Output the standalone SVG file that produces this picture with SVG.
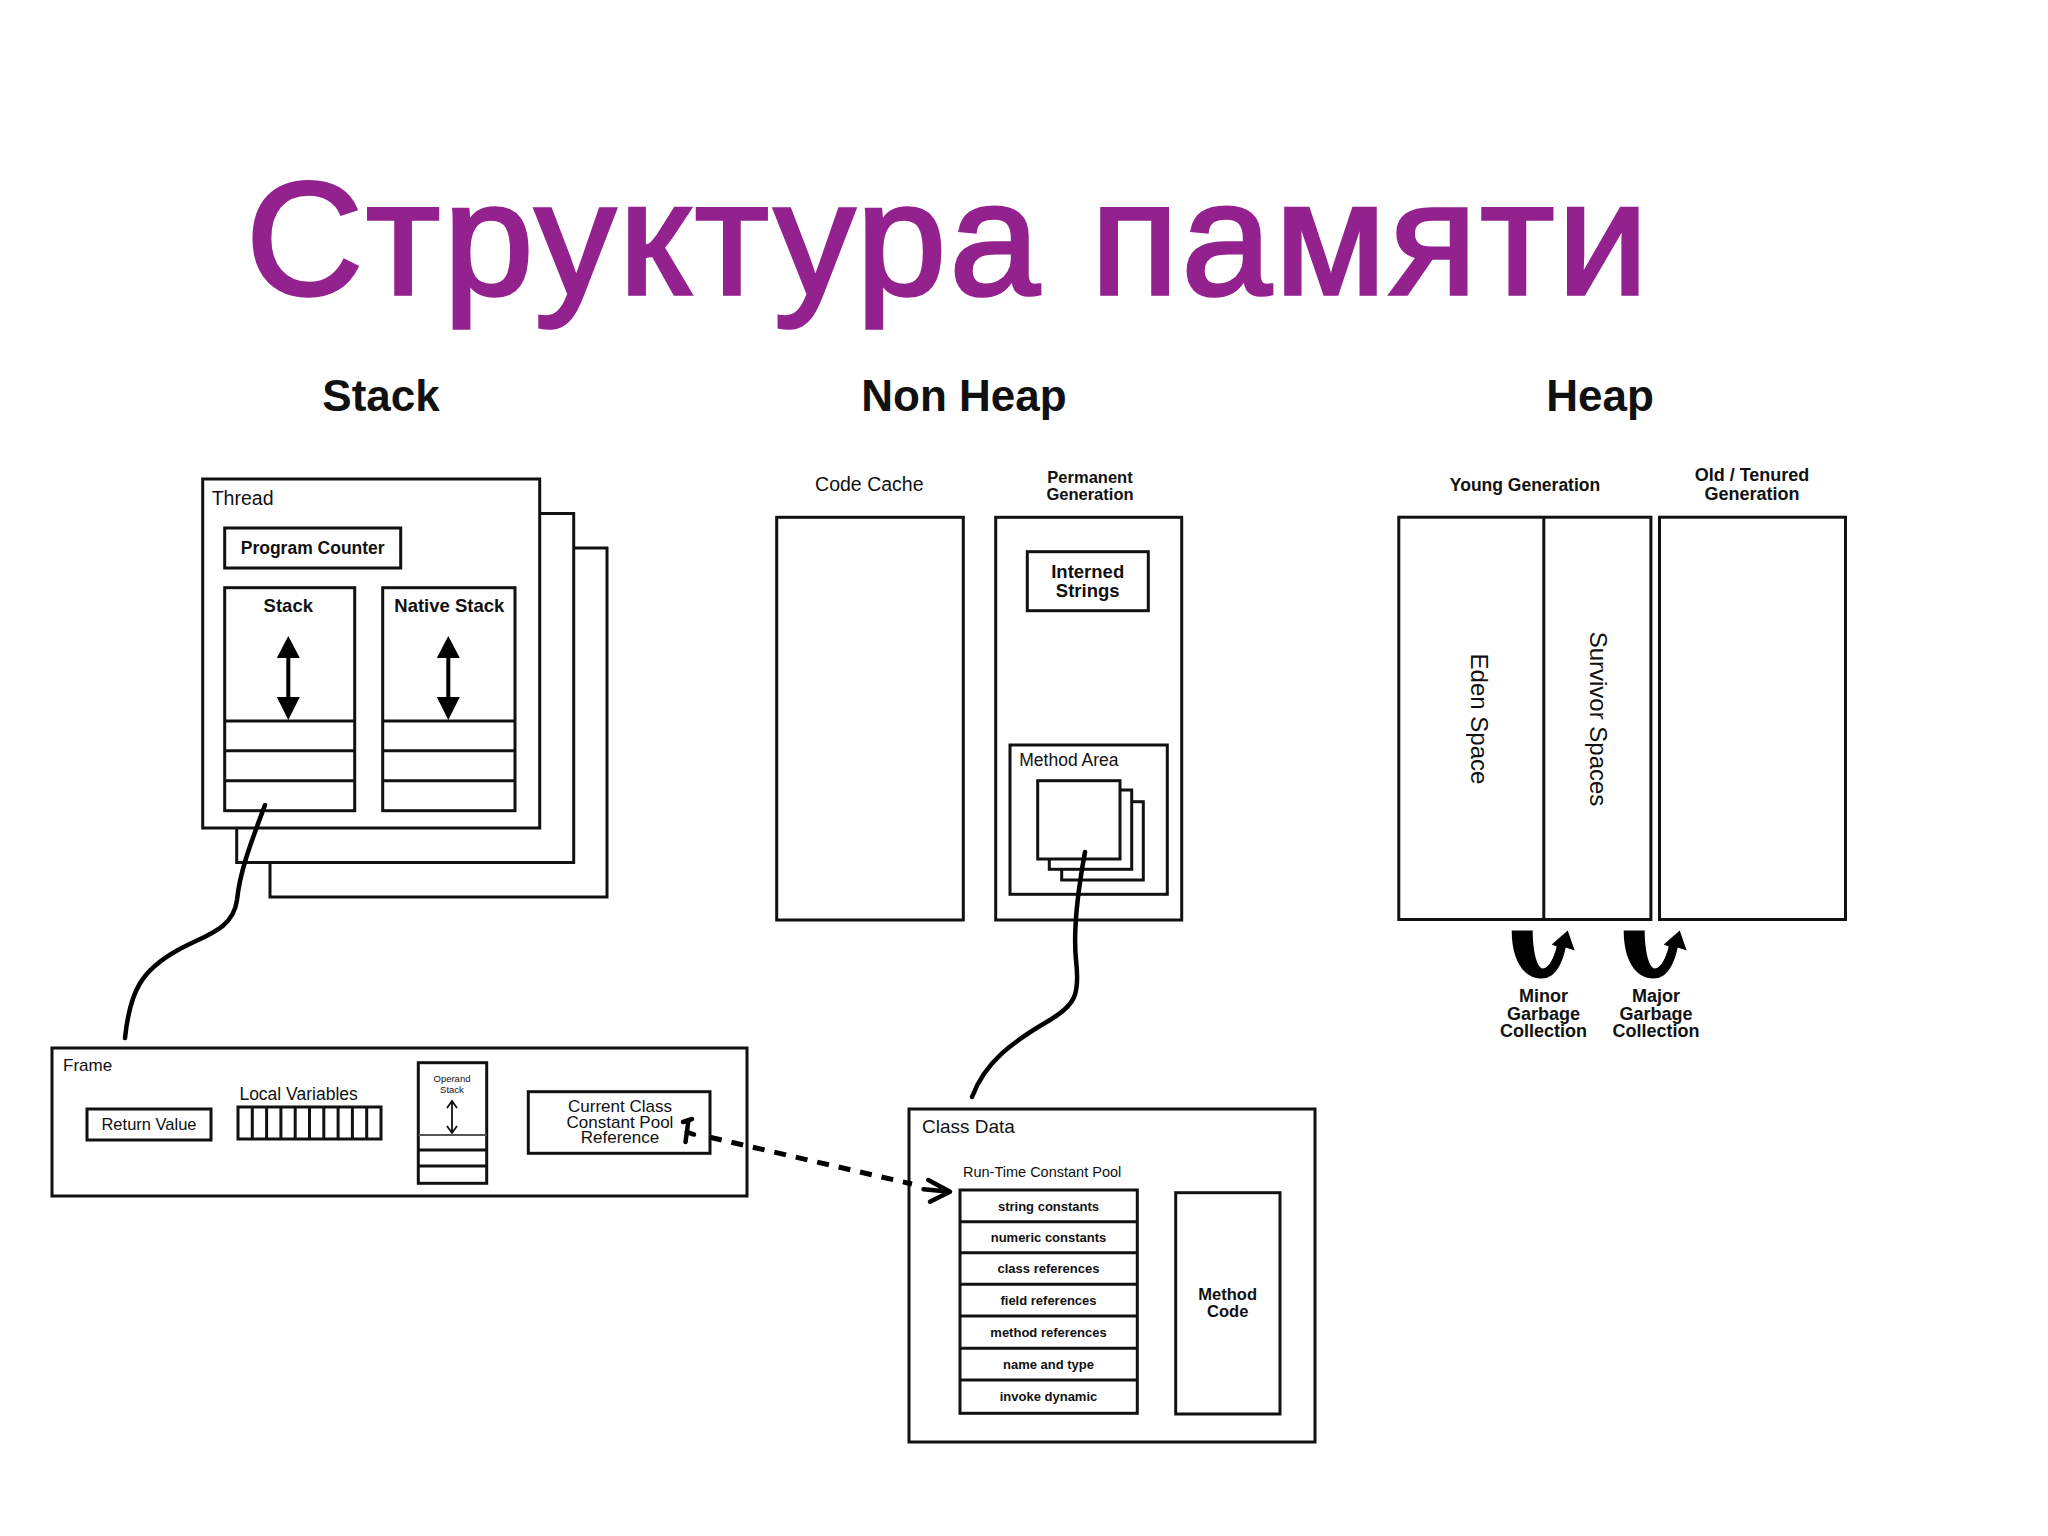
<svg xmlns="http://www.w3.org/2000/svg" xmlns:xlink="http://www.w3.org/1999/xlink" width="2048" height="1536" viewBox="0 0 2048 1536">
<style>
.box{fill:#fff;stroke:#111;stroke-width:3}
.thin{fill:#fff;stroke:#111;stroke-width:2.5}
.ln{stroke:#111;stroke-width:3;fill:none}
.t{font-family:"Liberation Sans",Arial,Helvetica,sans-serif;fill:#111}
.b{font-weight:bold}
.m{text-anchor:middle}
.wire{fill:none;stroke:#000;stroke-width:4.5;stroke-linecap:round;stroke-linejoin:round}
.dash{fill:none;stroke:#000;stroke-width:5;stroke-dasharray:12 10}
.gc{fill:#000}
</style>
<defs>
<g id="dblarrow">
<polygon points="0,636 -11.5,658 11.5,658" fill="#000"/>
<rect x="-2" y="656" width="4" height="43" fill="#000"/>
<polygon points="-11.5,697 11.5,697 0,720" fill="#000"/>
</g>
<path id="gcarrow" class="gc" d="M0,0 L21,0 C21,20 25,37 31,38 C37,38 42,28 45,16 L40,14 L56,0 L63,20 L54,17 C50,36 42,48 30,48 C12,48 0,30 0,0 Z"/>
</defs>
<rect width="2048" height="1536" fill="#fff"/>

<text class="t" x="246" y="294" font-size="162" style="fill:#93228F;stroke:#93228F;stroke-width:3.5" textLength="1402">Структура памяти</text>

<g id="headers">
<text class="t b m" x="381" y="411" font-size="44">Stack</text>
<text class="t b m" x="964" y="411" font-size="44">Non Heap</text>
<text class="t b m" x="1600" y="411" font-size="44">Heap</text>
</g>

<g id="thread">
<rect class="box" x="270" y="548" width="337" height="349"/>
<rect class="box" x="236.7" y="513.5" width="337" height="349"/>
<rect class="box" x="202.7" y="479" width="337" height="349"/>
<text class="t" x="211.7" y="505" font-size="19.5">Thread</text>
<rect class="box" x="224.7" y="528" width="176" height="40"/>
<text class="t b m" x="312.7" y="554" font-size="17.5">Program Counter</text>
<rect class="box" x="224.7" y="587.7" width="130" height="223"/>
<line class="ln" x1="224.7" y1="721" x2="354.7" y2="721"/>
<line class="ln" x1="224.7" y1="750.7" x2="354.7" y2="750.7"/>
<line class="ln" x1="224.7" y1="780.7" x2="354.7" y2="780.7"/>
<text class="t b m" x="288.3" y="611.7" font-size="18.5">Stack</text>
<use xlink:href="#dblarrow" x="288.3"/>
<rect class="box" x="382.7" y="587.7" width="132.3" height="223"/>
<line class="ln" x1="382.7" y1="721" x2="515" y2="721"/>
<line class="ln" x1="382.7" y1="750.7" x2="515" y2="750.7"/>
<line class="ln" x1="382.7" y1="780.7" x2="515" y2="780.7"/>
<text class="t b m" x="449.3" y="611.7" font-size="18.5">Native Stack</text>
<use xlink:href="#dblarrow" x="448.3"/>
</g>

<g id="frame">
<rect class="box" x="52" y="1048" width="695" height="148"/>
<text class="t" x="63" y="1071" font-size="17">Frame</text>
<rect class="box" x="87" y="1109" width="124" height="31"/>
<text class="t m" x="149" y="1130" font-size="16.5">Return Value</text>
<text class="t m" x="298.6" y="1100" font-size="17.5">Local Variables</text>
<rect class="box" x="238" y="1107" width="143" height="32"/>
<path class="ln" d="M252.3,1107V1139M266.6,1107V1139M280.9,1107V1139M295.2,1107V1139M309.5,1107V1139M323.8,1107V1139M338.1,1107V1139M352.4,1107V1139M366.7,1107V1139"/>
<rect class="box" x="418.3" y="1062.7" width="68.4" height="120.6"/>
<text class="t m" x="452" y="1081.7" font-size="9.5">Operand</text>
<text class="t m" x="452" y="1092.5" font-size="9.5">Stack</text>
<path d="M452,1101V1133M447,1108L452,1101L457,1108M447,1126L452,1133L457,1126" fill="none" stroke="#111" stroke-width="1.8"/>
<line x1="418.3" y1="1135" x2="486.7" y2="1135" stroke="#555" stroke-width="2"/>
<line class="ln" x1="418.3" y1="1150" x2="486.7" y2="1150"/>
<line class="ln" x1="418.3" y1="1166" x2="486.7" y2="1166"/>
<rect class="box" x="528.3" y="1091.7" width="181.7" height="61.6"/>
<text class="t m" x="620" y="1111.7" font-size="17">Current Class</text>
<text class="t m" x="620" y="1127.5" font-size="17">Constant Pool</text>
<text class="t m" x="620" y="1143.3" font-size="17">Reference</text>
</g>

<g id="code-cache">
<text class="t m" x="869.3" y="490.7" font-size="19.5">Code Cache</text>
<rect class="box" x="776.7" y="517.3" width="186.6" height="402.7"/>
</g>

<g id="permanent-generation">
<text class="t b m" x="1090" y="482.7" font-size="16.5">Permanent</text>
<text class="t b m" x="1090" y="500" font-size="16.5">Generation</text>
<rect class="box" x="995.7" y="517.3" width="186" height="402.7"/>
<rect class="box" x="1027.3" y="551.7" width="121" height="59"/>
<text class="t b m" x="1087.7" y="578.3" font-size="18.5">Interned</text>
<text class="t b m" x="1087.7" y="596.7" font-size="18.5">Strings</text>
<rect class="box" x="1010" y="745" width="157.3" height="149.3"/>
<text class="t" x="1019.3" y="766" font-size="17.5">Method Area</text>
<rect class="box" x="1061.7" y="801.7" width="81.6" height="78.3"/>
<rect class="box" x="1049.3" y="790" width="82.4" height="79.3"/>
<rect class="box" x="1037.7" y="780.7" width="82.3" height="78.3"/>
</g>

<g id="class-data">
<rect class="box" x="909" y="1109" width="406" height="333"/>
<text class="t" x="922" y="1133" font-size="19">Class Data</text>
<text class="t" x="963" y="1177.3" font-size="14.5">Run-Time Constant Pool</text>
<rect class="box" x="960" y="1190" width="177.3" height="223.3"/>
<path class="ln" d="M960,1221.7H1137.3M960,1252.7H1137.3M960,1284.3H1137.3M960,1316H1137.3M960,1348.3H1137.3M960,1380H1137.3"/>
<text class="t b m" x="1048.5" y="1210.5" font-size="13">string constants</text>
<text class="t b m" x="1048.5" y="1241.7" font-size="13">numeric constants</text>
<text class="t b m" x="1048.5" y="1273" font-size="13">class references</text>
<text class="t b m" x="1048.5" y="1304.7" font-size="13">field references</text>
<text class="t b m" x="1048.5" y="1336.7" font-size="13">method references</text>
<text class="t b m" x="1048.5" y="1368.7" font-size="13">name and type</text>
<text class="t b m" x="1048.5" y="1401.2" font-size="13">invoke dynamic</text>
<rect class="box" x="1175.7" y="1192.7" width="104.3" height="221.3"/>
<text class="t b m" x="1227.7" y="1300" font-size="16.5">Method</text>
<text class="t b m" x="1227.7" y="1316.7" font-size="16.5">Code</text>
</g>

<g id="young-generation">
<text class="t b m" x="1525" y="491" font-size="17.5">Young Generation</text>
<rect class="box" x="1398.8" y="517.2" width="252.1" height="402.3"/>
<line class="ln" x1="1543.8" y1="517.2" x2="1543.8" y2="919.5"/>
<text class="t" font-size="24" text-anchor="middle" transform="translate(1471,719) rotate(90)">Eden Space</text>
<text class="t" font-size="24" text-anchor="middle" transform="translate(1590,719) rotate(90)">Survivor Spaces</text>
</g>

<g id="old-generation">
<text class="t b m" x="1752" y="481" font-size="18">Old / Tenured</text>
<text class="t b m" x="1752" y="500" font-size="18">Generation</text>
<rect class="box" x="1659.5" y="517.2" width="186" height="402.3"/>
</g>

<g id="gc-labels">
<text class="t b m" x="1543.5" y="1002" font-size="18">Minor</text>
<text class="t b m" x="1543.5" y="1019.5" font-size="18">Garbage</text>
<text class="t b m" x="1543.5" y="1037" font-size="18">Collection</text>
<text class="t b m" x="1656" y="1002" font-size="18">Major</text>
<text class="t b m" x="1656" y="1019.5" font-size="18">Garbage</text>
<text class="t b m" x="1656" y="1037" font-size="18">Collection</text>
</g>

<g id="connectors">
<path class="wire" d="M265,805 C252,840 240,870 237,900 C233,930 205,935 178,950 C142,970 130,990 125,1038"/>
<path class="wire" d="M1085,852 C1078,890 1073,930 1076,960 C1080,995 1075,1005 1050,1020 C1012,1042 985,1062 972,1097"/>
<path class="wire" stroke-width="4" d="M683,1122 L692,1119 M688.5,1120 L685.5,1142 M686.5,1132 L694,1134.5"/>
<line class="dash" x1="710" y1="1137.3" x2="912" y2="1184"/>
<path class="wire" d="M923.5,1189.3 L950,1191.7 M928.3,1180 L950,1191.7 L930,1201.7"/>
<use xlink:href="#gcarrow" x="1511.7" y="930.5"/>
<use xlink:href="#gcarrow" x="1623.7" y="930.5"/>
</g>
</svg>
